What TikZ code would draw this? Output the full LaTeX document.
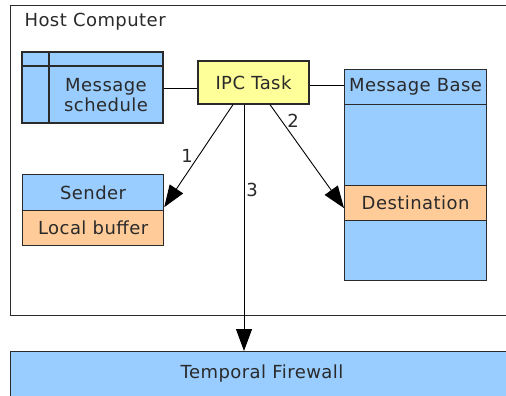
\documentclass[tikz,border=0pt]{standalone}
\usepackage{fontspec}
\setmainfont{DejaVu Sans}[LetterSpace=2.5]
\usetikzlibrary{arrows.meta}
\definecolor{boxblue}{HTML}{99CCFF}
\definecolor{boxorange}{HTML}{FFCC99}
\definecolor{boxyellow}{HTML}{FFFF99}
\definecolor{inkgray}{HTML}{2A2A2A}
\tikzset{
  lbl/.style={font=\fontsize{18}{21.5}\selectfont, text=inkgray},
  panel/.style={draw=inkgray, line width=1.2pt, rectangle, inner sep=0pt, lbl},
  flow/.style={draw=black, line width=0.9pt, -{Triangle[length=22pt,width=16pt]}},
  link/.style={draw=black, line width=0.9pt},
}
\begin{document}
\begin{tikzpicture}[x=1pt, y=-1pt]
  \useasboundingbox (0,0) rectangle (506,396);
  \clip (0,0) rectangle (506,396);
  \fill[white] (0,0) rectangle (506,396);

  % host frame
  \node[panel, fill=white, line width=1pt, minimum width=510pt, minimum height=310pt, anchor=north west] (host) at (10,5) {};
  \node[lbl, anchor=west] (hosttitle) at (21,22) {Host Computer};

  % message schedule table
  \node[panel, fill=boxblue, minimum width=141pt, minimum height=71pt] (sched) at (92.5,87.5) {};
  \draw[inkgray, line width=1.2pt] (22,66) -- (163,66) (49,52) -- (49,123);
  \node[lbl, align=center] (schedtext) at (106,95) {Message\\[-2pt]schedule};

  % IPC task
  \node[panel, fill=boxyellow, minimum width=111pt, minimum height=43pt] (ipc) at (253.5,82.5) {IPC Task};

  % message base column
  \node[panel, fill=boxblue, minimum width=142pt, minimum height=211pt, anchor=north west] (base) at (344,69) {};
  \node[panel, fill=boxblue, minimum width=142pt, minimum height=35pt, anchor=north west] (basehead) at (344,69) {Message Base};
  \node[panel, fill=boxorange, minimum width=142pt, minimum height=35pt, anchor=north west] (dest) at (344,185) {Destination};

  % sender with its buffer
  \node[panel, fill=boxblue, minimum width=141pt, minimum height=36pt, anchor=north west] (sender) at (22,174) {Sender};
  \node[panel, fill=boxorange, minimum width=141pt, minimum height=35pt, anchor=north west] (buffer) at (22,210) {Local buffer};

  % temporal firewall bar
  \node[panel, fill=boxblue, line width=1pt, minimum width=520pt, minimum height=60pt, anchor=north west] (fw) at (10,351) {};
  \node[lbl] (fwtext) at (262,374) {Temporal Firewall};

  % connections
  \draw[link] (sched.east |- 0,88) -- (ipc.west |- 0,88);
  \draw[link] (ipc.east |- 0,85) -- (basehead.west |- 0,85);
  \coordinate (o1) at ([xshift=-20.5pt]ipc.south);
  \coordinate (o2) at ([xshift=16.5pt]ipc.south);
  \coordinate (o3) at ([xshift=-9.5pt]ipc.south);
  \draw[flow] (o1) -- ([yshift=4pt]sender.south east);
  \draw[flow] (o2) -- ([yshift=-5pt]dest.west);
  \draw[flow] (o3) -- (o3 |- fw.north);
  \node[lbl] (n1) at (187,156) {1};
  \node[lbl] (n2) at (293,121) {2};
  \node[lbl] (n3) at (252,190) {3};
\end{tikzpicture}
\end{document}
